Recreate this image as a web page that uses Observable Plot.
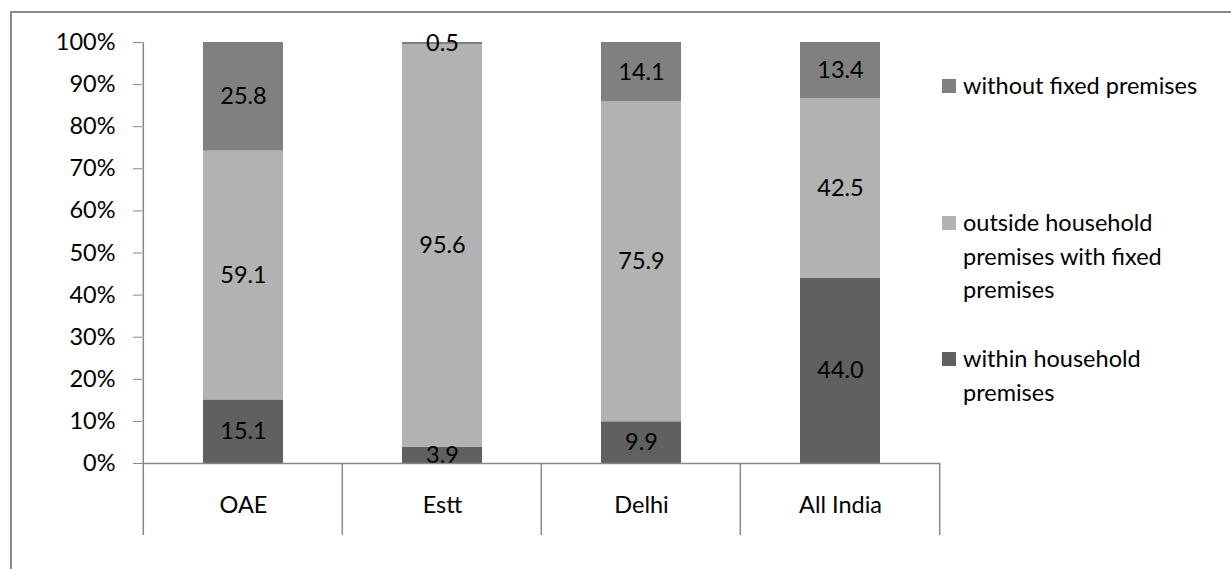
<!DOCTYPE html>
<html>
<head>
<meta charset="utf-8">
<script src="https://cdn.jsdelivr.net/npm/d3@7"></script>
<script src="https://cdn.jsdelivr.net/npm/@observablehq/plot@0.6"></script>
<style>
  html, body { margin: 0; padding: 0; background: #fff; }
  #wrap { position: relative; width: 1231px; height: 569px; overflow: hidden; font-family: Lato, "Open Sans", sans-serif; }
  #frame { position: absolute; left: 10px; top: 11px; width: 1400px; height: 800px; border: 2px solid #888; box-sizing: border-box; }
  #chart { position: absolute; left: 0; top: 0; }
  .legend-item { position: absolute; left: 942px; font-size: 23.5px; line-height: 33.5px; color: #000; }
  .legend-item .sw { position: absolute; left: 0; top: 10px; width: 14px; height: 14px; }
  .legend-item .lb { position: absolute; left: 21px; top: 0; width: 250px; }
</style>
</head>
<body>
<div id="wrap">
  <div id="frame"></div>
  <div id="chart"></div>
  <div id="legend"></div>
</div>
<script>
// Categories along the x axis
const categories = ["OAE", "Estt", "Delhi", "All India"];

// Series, bottom to top of each stacked bar
const seriesNames = [
  "within household premises",
  "outside household premises with fixed premises",
  "without fixed premises"
];
const seriesColors = ["#606060", "#b2b2b2", "#808080"];

// Share (%) of each series per category
const withinHousehold  = [15.1, 3.9, 9.9, 44.0];
const outsideHousehold = [59.1, 95.6, 75.9, 42.5];
const withoutFixed     = [25.8, 0.5, 14.1, 13.4];

// Y axis tick values (fractions of the 100% stack)
const yTicks = [0, 0.1, 0.2, 0.3, 0.4, 0.5, 0.6, 0.7, 0.8, 0.9, 1.0];

const seriesValues = [withinHousehold, outsideHousehold, withoutFixed];
const rows = [];
seriesNames.forEach((s, si) => {
  categories.forEach((c, ci) => {
    rows.push({category: c, series: s, value: seriesValues[si][ci]});
  });
});

const axisGray = "#888";
const font = "Lato, 'Open Sans', sans-serif";
const fs = 23.5;

const stackOpts = {x: "category", y: "value", z: "series", offset: "normalize", order: seriesNames};

const plot = Plot.plot({
  width: 1231,
  height: 569,
  marginLeft: 142,
  marginRight: 291,
  marginTop: 42,
  marginBottom: 106,
  style: {fontFamily: font, fontSize: fs + "px", background: "transparent", color: "#000"},
  x: {domain: categories, paddingInner: 0.6, paddingOuter: 0.3, label: null},
  y: {domain: [0, 1], label: null},
  color: {domain: seriesNames, range: seriesColors},
  marks: [
    Plot.barY(rows, Plot.stackY({...stackOpts, fill: "series"})),
    Plot.text(rows, Plot.stackY({...stackOpts, text: d => d.value.toFixed(1), fill: "#000", fontSize: fs})),
    Plot.ruleY([0], {stroke: axisGray, strokeWidth: 1.5}),
    Plot.axisY({ticks: yTicks, tickFormat: d3.format(".0%"), tickSize: 9, tickPadding: 18,
                stroke: axisGray, fill: "#000", fontSize: fs, label: null}),
    Plot.axisX({tickSize: 0, tickPadding: 33, fill: "#000", fontSize: fs, label: null})
  ]
});

document.getElementById("chart").appendChild(plot);

// Excel-style category dividers and vertical axis line, placed with the plot's own scales
const xs = plot.scale("x");
const ys = plot.scale("y");
const step = xs.step;
const outer = (xs.paddingOuter ?? 0.3) * step;
const y0 = ys.apply(0), y1 = ys.apply(1);
const dividerBottom = y0 + 72;
const edges = categories.map(c => xs.apply(c) - outer);
edges.push(xs.apply(categories[categories.length - 1]) + xs.bandwidth + outer);

const svg = d3.select(plot);
const g = svg.append("g").attr("stroke", axisGray).attr("stroke-width", 1.5);
g.append("line").attr("x1", edges[0]).attr("x2", edges[0]).attr("y1", y1).attr("y2", dividerBottom);
edges.slice(1).forEach(e => {
  g.append("line").attr("x1", e).attr("x2", e).attr("y1", y0).attr("y2", dividerBottom);
});

// Legend, top entry first
const legendTops = [69, 206, 342];
const legendOrder = [2, 1, 0];
const legend = document.getElementById("legend");
legendOrder.forEach((si, i) => {
  const item = document.createElement("div");
  item.className = "legend-item";
  item.style.top = legendTops[i] + "px";
  item.innerHTML = `<div class="sw" style="background:${seriesColors[si]}"></div><div class="lb">${seriesNames[si]}</div>`;
  legend.appendChild(item);
});
</script>
</body>
</html>
